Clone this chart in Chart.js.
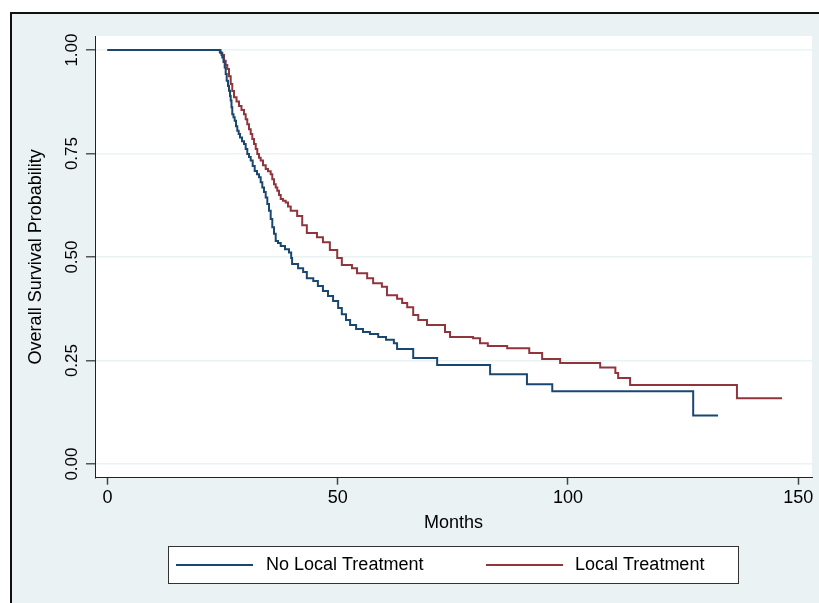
<!DOCTYPE html>
<html lang="en">
<head>
    <meta charset="UTF-8">
    <title>Overall Survival</title>
    <script src="https://cdn.jsdelivr.net/npm/chart.js"></script>
    <style>
        body {
            margin: 0;
            background-color: #ffffff;
        }
        canvas {
            display: block;
        }
    </style>
</head>
<body>
    <canvas id="kmChart" width="819" height="603"></canvas>

    <script>
        // Kaplan-Meier curves (months, survival)
        const noLocalMonths = [0, 24.55, 24.94, 25.20, 25.46, 25.68, 25.90, 26.18, 26.40, 26.61, 26.77, 26.94, 27.11, 27.37, 27.63, 27.92, 28.20, 28.50, 28.79, 29.22, 29.66, 30.02, 30.37, 30.74, 31.11, 31.54, 31.98, 32.48, 32.91, 33.28, 33.63, 34.00, 34.37, 34.72, 35.09, 35.45, 35.80, 36.17, 36.54, 37.04, 37.63, 38.56, 39.43, 39.9, 40.1, 41.4, 42.5, 43.3, 44.7, 45.7, 46.8, 47.9, 49.0, 50.1, 50.9, 51.8, 52.7, 54.0, 55.5, 57.0, 58.8, 60.5, 62.2, 62.9, 66.4, 71.6, 83.1, 91.1, 96.6, 127.2, 132.6];
        const noLocalSurv = [1.0, 0.993, 0.982, 0.971, 0.958, 0.942, 0.926, 0.913, 0.902, 0.889, 0.878, 0.862, 0.845, 0.838, 0.829, 0.816, 0.805, 0.797, 0.789, 0.780, 0.773, 0.761, 0.749, 0.742, 0.733, 0.720, 0.708, 0.700, 0.693, 0.681, 0.668, 0.657, 0.644, 0.628, 0.612, 0.592, 0.572, 0.556, 0.539, 0.534, 0.527, 0.519, 0.511, 0.498, 0.483, 0.473, 0.464, 0.449, 0.442, 0.430, 0.418, 0.406, 0.394, 0.377, 0.362, 0.348, 0.336, 0.326, 0.319, 0.314, 0.307, 0.300, 0.292, 0.278, 0.256, 0.239, 0.217, 0.193, 0.176, 0.117, 0.117];

        const localMonths = [0, 24.40, 24.77, 25.31, 25.68, 26.03, 26.40, 26.77, 27.11, 27.48, 28.03, 28.57, 29.11, 29.65, 30.02, 30.37, 30.74, 31.11, 31.46, 31.83, 32.20, 32.54, 32.91, 33.28, 33.78, 34.37, 34.87, 35.45, 35.80, 36.17, 36.54, 36.89, 37.26, 37.63, 38.13, 38.71, 39.21, 39.80, 41.2, 42.3, 43.3, 45.5, 46.8, 48.3, 49.9, 50.9, 53.1, 54.2, 56.4, 57.7, 59.6, 60.7, 62.9, 64.0, 65.1, 66.4, 67.5, 69.4, 73.3, 74.4, 79.4, 80.9, 82.6, 86.8, 91.6, 94.4, 98.3, 107.0, 110.3, 110.9, 113.5, 136.7, 146.5];
        const localSurv = [1.0, 0.995, 0.988, 0.974, 0.964, 0.954, 0.937, 0.918, 0.901, 0.886, 0.876, 0.865, 0.855, 0.845, 0.833, 0.821, 0.809, 0.797, 0.785, 0.773, 0.761, 0.749, 0.740, 0.733, 0.722, 0.713, 0.707, 0.700, 0.688, 0.676, 0.668, 0.660, 0.650, 0.640, 0.636, 0.632, 0.622, 0.612, 0.599, 0.577, 0.558, 0.548, 0.536, 0.517, 0.498, 0.481, 0.473, 0.461, 0.449, 0.437, 0.428, 0.408, 0.399, 0.389, 0.379, 0.360, 0.348, 0.336, 0.319, 0.307, 0.304, 0.292, 0.285, 0.280, 0.268, 0.254, 0.244, 0.233, 0.220, 0.208, 0.191, 0.159, 0.159];

        const seriesNames = ['No Local Treatment', 'Local Treatment'];
        const xTicks = [0, 50, 100, 150];
        const yTicks = [0, 0.25, 0.5, 0.75, 1];
        const yTickLabels = ['0.00', '0.25', '0.50', '0.75', '1.00'];

        const FONT = '"Liberation Sans", Arial, Helvetica, sans-serif';
        const BLUE = '#1a476f';
        const RED = '#90353b';
        const BG = '#eaf2f3';

        const toPoints = (xs, ys) => xs.map((x, i) => ({ x, y: ys[i] }));

        // background, outer frame, white plot region
        const backdrop = {
            id: 'backdrop',
            beforeDraw(chart) {
                const ctx = chart.ctx;
                const a = chart.chartArea;
                ctx.save();
                ctx.fillStyle = '#ffffff';
                ctx.fillRect(0, 0, chart.width, chart.height);
                ctx.fillStyle = BG;
                ctx.fillRect(11, 13, chart.width - 11, chart.height - 13);
                ctx.fillStyle = '#111111';
                ctx.fillRect(10, 12, chart.width - 10, 2);
                ctx.fillRect(10, 12, 2, chart.height - 12);
                ctx.fillStyle = '#ffffff';
                ctx.fillRect(a.left, a.top, a.right - a.left, a.bottom - a.top);
                ctx.restore();
            }
        };

        // vertical y tick labels and the boxed legend
        const extras = {
            id: 'extras',
            afterDraw(chart) {
                const ctx = chart.ctx;
                const yScale = chart.scales.y;
                ctx.save();
                ctx.fillStyle = '#000000';
                ctx.font = '17px ' + FONT;
                ctx.textAlign = 'center';
                ctx.textBaseline = 'middle';
                yTicks.forEach((v, i) => {
                    const py = yScale.getPixelForValue(v);
                    ctx.save();
                    ctx.translate(72, py);
                    ctx.rotate(-Math.PI / 2);
                    ctx.fillText(yTickLabels[i], 0, 0);
                    ctx.restore();
                });

                // legend
                ctx.fillStyle = '#ffffff';
                ctx.fillRect(168, 546, 570, 37);
                ctx.strokeStyle = '#333333';
                ctx.lineWidth = 1;
                ctx.strokeRect(168.5, 546.5, 570, 37);
                const ly = 565;
                const items = [
                    { color: chart.data.datasets[0].borderColor, x0: 176, text: seriesNames[0], tx: 266 },
                    { color: chart.data.datasets[1].borderColor, x0: 486, text: seriesNames[1], tx: 575 }
                ];
                ctx.font = '18px ' + FONT;
                ctx.textAlign = 'left';
                items.forEach(it => {
                    ctx.strokeStyle = it.color;
                    ctx.lineWidth = 2;
                    ctx.beginPath();
                    ctx.moveTo(it.x0, ly);
                    ctx.lineTo(it.x0 + 77, ly);
                    ctx.stroke();
                    ctx.fillStyle = '#000000';
                    ctx.fillText(it.text, it.tx, ly);
                });
                ctx.restore();
            }
        };

        const ctx = document.getElementById('kmChart').getContext('2d');
        new Chart(ctx, {
            type: 'line',
            data: {
                datasets: [
                    {
                        label: seriesNames[0],
                        data: toPoints(noLocalMonths, noLocalSurv),
                        borderColor: BLUE,
                        borderWidth: 2,
                        stepped: 'before',
                        pointRadius: 0,
                        fill: false
                    },
                    {
                        label: seriesNames[1],
                        data: toPoints(localMonths, localSurv),
                        borderColor: RED,
                        borderWidth: 2,
                        stepped: 'before',
                        pointRadius: 0,
                        fill: false
                    }
                ]
            },
            options: {
                responsive: false,
                animation: false,
                layout: {
                    padding: { left: 0, top: 36, right: 7, bottom: 0 }
                },
                plugins: {
                    legend: { display: false },
                    tooltip: { enabled: false }
                },
                scales: {
                    x: {
                        type: 'linear',
                        min: -2.7,
                        max: 153,
                        afterBuildTicks: s => { s.ticks = xTicks.map(v => ({ value: v })); },
                        afterFit: s => { s.height = 125.3; },
                        grid: {
                            drawOnChartArea: false,
                            drawTicks: true,
                            tickLength: 7,
                            tickColor: '#444444',
                            tickWidth: 1.5
                        },
                        border: { display: true, color: '#222222', width: 1 },
                        ticks: {
                            color: '#000000',
                            font: { family: FONT, size: 18 },
                            padding: 3,
                            maxRotation: 0
                        },
                        title: {
                            display: true,
                            text: 'Months',
                            color: '#000000',
                            font: { family: FONT, size: 18 },
                            padding: { top: 2, bottom: 69 }
                        }
                    },
                    y: {
                        type: 'linear',
                        min: -0.033,
                        max: 1.034,
                        afterBuildTicks: s => { s.ticks = yTicks.map(v => ({ value: v })); },
                        afterFit: s => { s.width = 95; },
                        grid: {
                            color: BG,
                            lineWidth: 1.5,
                            drawTicks: true,
                            tickLength: 9,
                            tickColor: '#555555',
                            tickWidth: 1.5
                        },
                        border: { display: true, color: '#222222', width: 1 },
                        ticks: { display: false },
                        title: {
                            display: true,
                            text: 'Overall Survival Probability',
                            color: '#000000',
                            font: { family: FONT, size: 18 },
                            padding: { top: 25, bottom: 0 }
                        }
                    }
                }
            },
            plugins: [backdrop, extras]
        });
    </script>
</body>
</html>
